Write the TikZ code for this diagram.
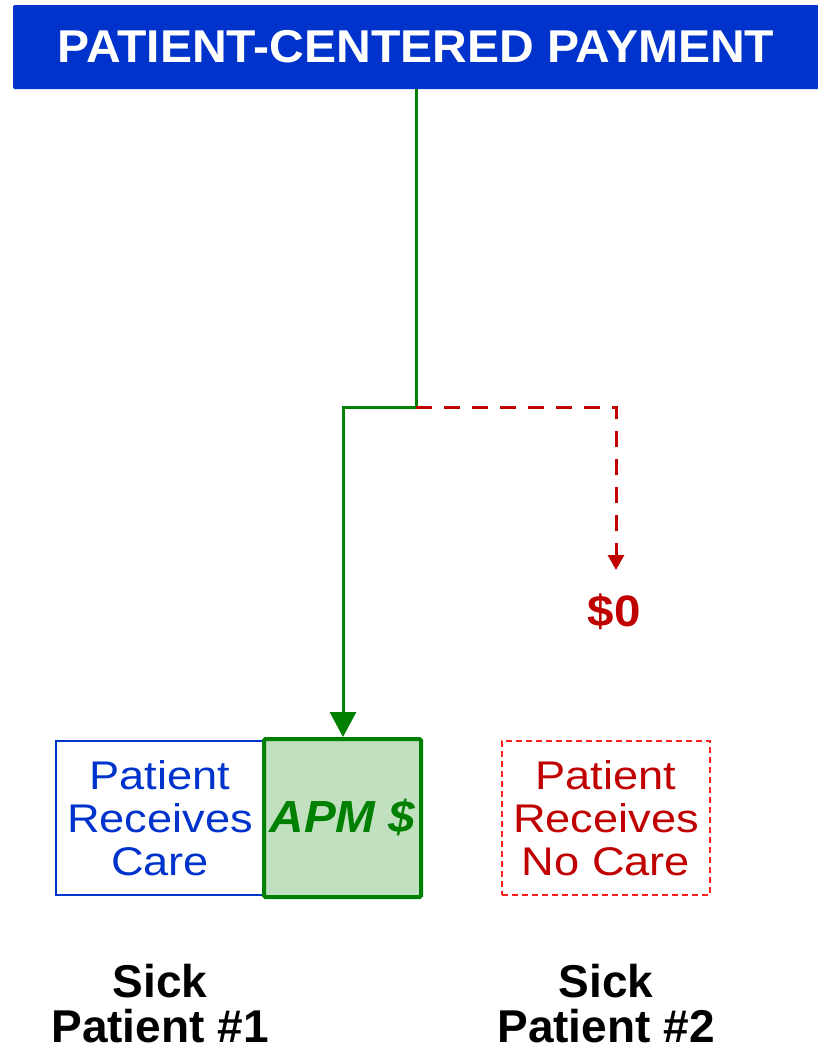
\documentclass[tikz,border=0pt]{standalone}
\usepackage{fontspec}
\setmainfont{Liberation Sans}
\newfontfamily\carefont[FakeStretch=1.13]{Liberation Sans}
\newfontfamily\bannerfont[FakeStretch=1.045]{Liberation Sans}
\newfontfamily\apmfont[FakeStretch=1.06]{Liberation Sans}
\newfontfamily\zerofont[FakeStretch=1.08]{Liberation Sans}
\usetikzlibrary{arrows.meta}
\definecolor{bannerblue}{RGB}{0,51,204}
\definecolor{pgreen}{RGB}{0,128,0}
\definecolor{dred}{RGB}{192,0,0}
\definecolor{lred}{RGB}{255,30,30}
\definecolor{lgreen}{RGB}{192,224,192}
\tikzset{
  banner/.style={fill=bannerblue, rounded corners=2pt, minimum width=806pt, minimum height=84pt, inner sep=0pt,
    text=white, font=\bannerfont\fontsize{46}{50}\selectfont\bfseries},
  greenline/.style={draw=pgreen, line width=3pt},
  redline/.style={draw=dred, line width=3pt, dash pattern=on 16pt off 12pt},
  carebox/.style={draw=bannerblue, line width=1.3pt, minimum width=208pt, minimum height=154pt, inner sep=0pt,
    align=center, text=bannerblue, font=\carefont\fontsize{40}{43}\selectfont},
  nocarebox/.style={draw=lred, line width=1.3pt, dash pattern=on 6pt off 4pt, minimum width=208pt, minimum height=154pt, inner sep=0pt,
    align=center, text=dred, font=\carefont\fontsize{40}{43}\selectfont},
  apmbox/.style={draw=pgreen, fill=lgreen, line width=4pt, rounded corners=1.5pt, minimum width=157pt, minimum height=158pt, inner sep=0pt,
    text=pgreen, font=\apmfont\fontsize{45}{50}\selectfont\bfseries\itshape},
  zerolabel/.style={text=dred, font=\zerofont\fontsize{44}{50}\selectfont\bfseries, inner sep=0pt},
  sicklabel/.style={align=center, font=\fontsize{46}{45}\selectfont\bfseries, inner sep=0pt},
}
\begin{document}
\begin{tikzpicture}[x=1pt,y=-1pt]
\useasboundingbox (0,0) rectangle (817,1052);
\node[banner] (banner) at (416,47) {PATIENT-CENTERED PAYMENT};
\node[carebox] (care) at (160,818) {Patient\\Receives\\Care};
\node[apmbox] (apm) at (342.5,818) {\raisebox{5pt}{APM \$}};
\node[nocarebox] (nocare) at (606,818) {Patient\\Receives\\No Care};
\node[zerolabel] (zero) at (614,612) {\$0};
\node[sicklabel] (sick1) at (160,1004) {Sick\\Patient \#1};
\node[sicklabel] (sick2) at (606,1004) {Sick\\Patient \#2};
\coordinate (j) at (416,407);
\coordinate (k) at (343,407);
\coordinate (r) at (616,407);
\coordinate (rt) at (616,570);
\draw[greenline, -{Triangle[width=26pt,length=25pt]}] (banner.south -| j) -- (j) -- (k) -- (apm.north -| k);
\draw[redline, -{Triangle[width=16pt,length=15pt]}] (j) -- (r) -- (rt);
\end{tikzpicture}
\end{document}
